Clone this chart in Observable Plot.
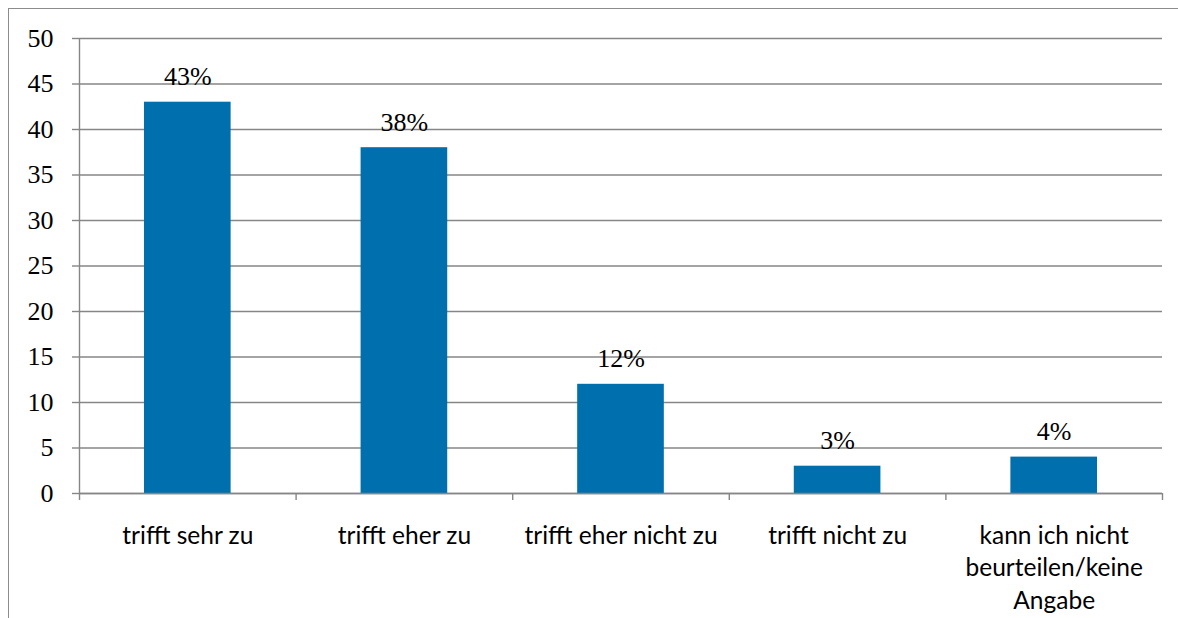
<!DOCTYPE html>
<html>
<head>
<meta charset="utf-8">
<script src="https://cdn.jsdelivr.net/npm/d3@7"></script>
<script src="https://cdn.jsdelivr.net/npm/@observablehq/plot@0.6"></script>
<style>
  html, body { margin: 0; padding: 0; background: #fff; overflow: hidden; }
  #wrap { position: relative; width: 1178px; height: 618px; }
  #frame { position: absolute; left: 8px; top: 8px; width: 1300px; height: 700px; border: 1.5px solid #8c8c8c; box-sizing: border-box; pointer-events: none; }
  #chart { position: absolute; left: 0; top: 0; }
</style>
</head>
<body>
<div id="wrap"><div id="frame"></div><div id="chart"></div></div>
<script>
const categories = ["trifft sehr zu", "trifft eher zu", "trifft eher nicht zu", "trifft nicht zu", "kann ich nicht\nbeurteilen/keine\nAngabe"];
const values = [43, 38, 12, 3, 4];
const yTicks = [0, 5, 10, 15, 20, 25, 30, 35, 40, 45, 50];

const data = categories.map((c, i) => ({ cat: c, i, value: values[i] }));
const boundaries = d3.range(categories.length + 1);

const grid = "#868686";
const chart = Plot.plot({
  width: 1178,
  height: 618,
  marginLeft: 79,
  marginRight: 16,
  marginTop: 38,
  marginBottom: 125,
  style: { background: "transparent", overflow: "visible" },
  x: { type: "linear", domain: [0, categories.length], axis: null },
  y: { type: "linear", domain: [0, 50], axis: null },
  marks: [
    Plot.gridY(yTicks, { stroke: grid, strokeOpacity: 1, strokeWidth: 1.4 }),
    Plot.axisY(yTicks, {
      tickSize: 7, tickPadding: 19, stroke: grid, strokeWidth: 1.4,
      fontFamily: "Liberation Serif", fontSize: 26, fill: "#000", label: null
    }),
    Plot.rectY(data, { x1: d => d.i + 0.3, x2: d => d.i + 0.7, y1: 0, y2: "value", fill: "#006FAD" }),
    Plot.ruleX([0], { stroke: grid, strokeWidth: 1.4 }),
    Plot.ruleY([0], { stroke: grid, strokeWidth: 1.4 }),
    Plot.ruleX(boundaries, { x: d => d, y1: 0, y2: 0, insetTop: 0, insetBottom: -7, stroke: grid, strokeWidth: 1.4 }),
    Plot.text(data, {
      x: d => d.i + 0.5, y: "value", text: d => `${d.value}%`,
      lineAnchor: "bottom", dy: -17, fontFamily: "Liberation Serif", fontSize: 26, fill: "#000"
    }),
    Plot.text(data, {
      x: d => d.i + 0.5, y: 0, text: "cat",
      lineAnchor: "top", dy: 27, lineHeight: 1.33,
      fontFamily: "Lato", fontSize: 24.5, fill: "#000"
    })
  ]
});
document.getElementById("chart").appendChild(chart);
</script>
</body>
</html>
